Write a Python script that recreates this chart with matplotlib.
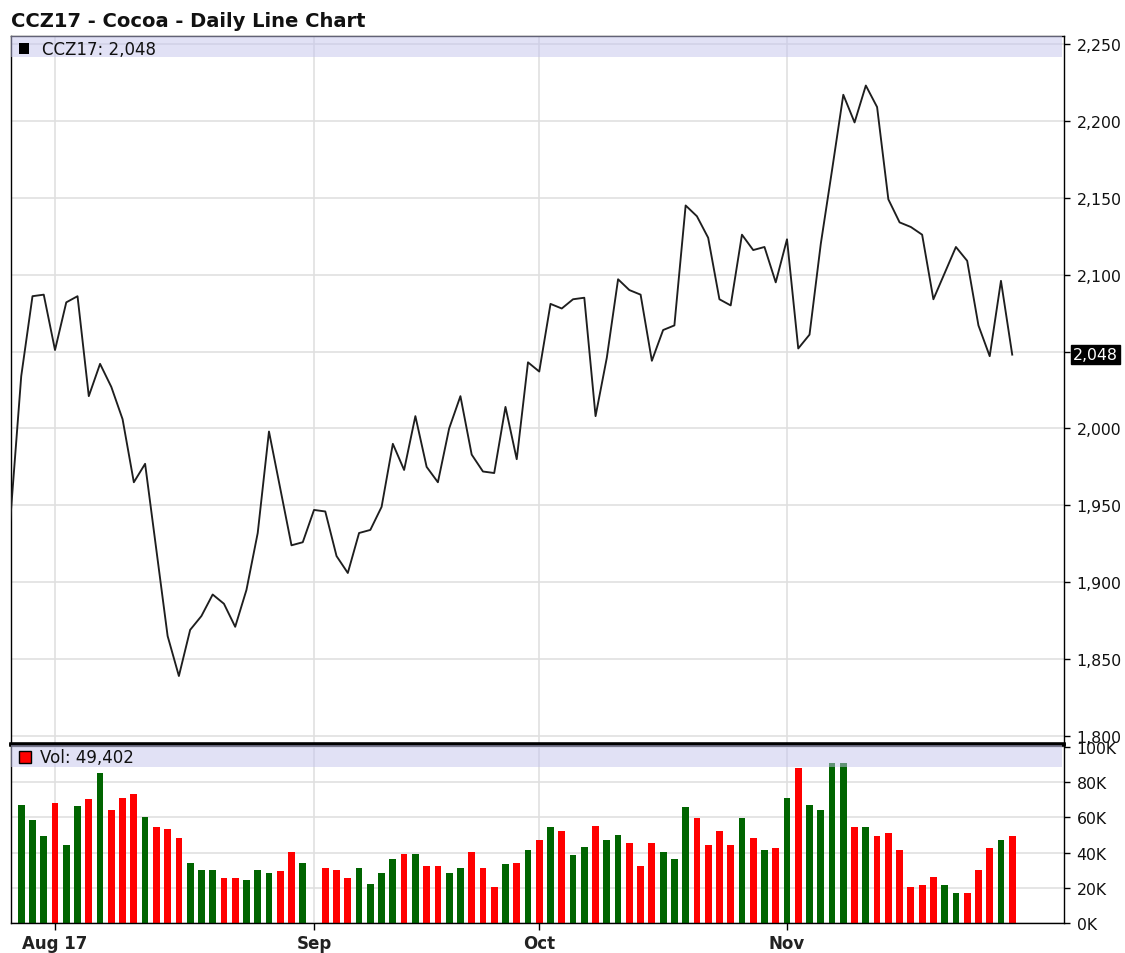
import numpy as np
import pandas as pd
import matplotlib
matplotlib.use('Agg')
import matplotlib.pyplot as plt
from matplotlib.ticker import FuncFormatter
from matplotlib.patches import Rectangle

# trading days shown on the chart (Sep 4 and Nov 23 are exchange holidays)
dates = pd.bdate_range('2017-07-26', '2017-11-30', freq='C',
                       holidays=['2017-09-04', '2017-11-23'])

# daily closes
close = [1938,
         2034, 2086, 2087,
         # Aug
         2051, 2082, 2086, 2021, 2042, 2027, 2006, 1965, 1977, 1921, 1865, 1839,
         1869, 1878, 1892, 1886, 1871, 1895, 1932, 1998, 1961, 1924, 1926,
         # Sep
         1947, 1946, 1917, 1906, 1932, 1934, 1949, 1990, 1973, 2008, 1975, 1965,
         2000, 2021, 1983, 1972, 1971, 2014, 1980, 2043,
         # Oct
         2037, 2081, 2078, 2084, 2085, 2008, 2046, 2097, 2090, 2087, 2044, 2064,
         2067, 2145, 2138, 2124, 2084, 2080, 2126, 2116, 2118, 2095,
         # Nov
         2123, 2052, 2061, 2120, 2168, 2217, 2199, 2223, 2209, 2149, 2134, 2131,
         2126, 2084, 2101, 2118, 2109, 2067, 2047, 2096, 2048]

# daily volume in thousands (first day is off the chart, Sep 1 has no bar)
volume_k = [np.nan,
            67.3, 58.3, 49.2,
            68.4, 44.4, 66.3, 70.3, 85.3, 64.3, 71.2, 73.5, 60.3, 54.3, 53.4, 48.3,
            34.2, 30.3, 30.3, 25.4, 25.4, 24.3, 30.3, 28.4, 29.4, 40.2, 34.2,
            0, 31.2, 30.3, 25.4, 31.2, 22.2, 28.2, 36.3, 39.3, 39.3, 32.4, 32.4,
            28.2, 31.2, 40.2, 31.2, 20.3, 33.3, 34.2, 41.4,
            47.4, 54.3, 52.3, 38.4, 43.2, 55.3, 47.4, 50.2, 45.3, 32.4, 45.3, 40.2,
            36.3, 66.1, 59.4, 44.4, 52.3, 44.4, 59.4, 48.3, 41.4, 42.5,
            71.2, 87.9, 67.3, 64.3, 91.0, 91.0, 54.3, 54.3, 49.2, 51.3, 41.4, 20.3,
            21.3, 26.3, 21.3, 17.3, 17.3, 30.3, 42.5, 47.4, 49.402]

month_labels = ['Aug 17', 'Sep', 'Oct', 'Nov']
price_ticks = [1800, 1850, 1900, 1950, 2000, 2050, 2100, 2150, 2200, 2250]
vol_ticks = [0, 20000, 40000, 60000, 80000, 100000]

close = np.array(close, dtype=float)
volume = np.array(volume_k) * 1000
x = np.arange(len(dates))

# first trading day of each month -> tick positions
month_start = [i for i in range(1, len(dates)) if dates[i].month != dates[i - 1].month]

up = np.r_[True, close[1:] >= close[:-1]]
bar_colors = np.where(up, '#006400', '#ff0000')

GRID = '#e0e0e0'
BAND = (0.77, 0.77, 0.93)

fig = plt.figure(figsize=(11.25, 9.54), dpi=100)
ax = fig.add_axes([0.0098, 0.2191, 0.9360, 0.7421])
axv = fig.add_axes([0.0098, 0.0315, 0.9360, 0.1866], sharex=ax)

# ---- price panel
ax.plot(x, close, color='#1e1e1e', lw=1.35, zorder=3)
ax.set_xlim(0.094, 93.6)
ax.set_ylim(1794.8, 2255.2)
ax.set_yticks(price_ticks)
last = close[-1]
ax.yaxis.set_major_formatter(FuncFormatter(
    lambda v, p: '' if abs(v - last) < 20 else f'{v:,.0f}'))
ax.yaxis.tick_right()
ax.tick_params(axis='y', direction='out', length=4, width=1, color='black',
               labelsize=11.3, pad=5, labelcolor='#111111')
ax.tick_params(axis='x', length=0, labelbottom=False)
ax.set_xticks(month_start)
ax.grid(True, color=GRID, lw=1.2, zorder=0)
ax.set_axisbelow(True)
for s in ['left', 'top', 'right']:
    ax.spines[s].set_linewidth(1.0)
ax.spines['bottom'].set_linewidth(2.6)

ax.add_patch(Rectangle((0, 0.9705), 0.998, 0.0295, transform=ax.transAxes,
                       facecolor=BAND, alpha=0.5, lw=0, zorder=4))
ax.add_patch(Rectangle((0.0078, 0.9742), 0.0092, 0.0158, transform=ax.transAxes,
                       facecolor='black', lw=0, zorder=5))
ax.text(0.0295, 0.9822, f'CCZ17: {last:,.0f}', transform=ax.transAxes,
        fontsize=12, va='center', ha='left', color='#111111', zorder=5)

ax.annotate(f'{last:,.0f}', xy=(1, last), xycoords=('axes fraction', 'data'),
            xytext=(6.3, 0), textcoords='offset points', va='center', ha='left',
            fontsize=11.3, color='white',
            bbox=dict(boxstyle='square,pad=0.12', fc='black', ec='black'),
            annotation_clip=False)

# ---- volume panel
axv.bar(x, volume, width=0.6, color=bar_colors, zorder=2)
axv.set_ylim(0, 101200)
axv.set_yticks(vol_ticks)
axv.yaxis.set_major_formatter(FuncFormatter(lambda v, p: f'{v / 1000:.0f}K'))
axv.yaxis.tick_right()
axv.tick_params(axis='y', direction='out', length=4, width=1, color='black',
                labelsize=11.3, pad=5, labelcolor='#111111')
axv.set_xticks(month_start)
axv.set_xticklabels(month_labels, fontweight='bold', fontsize=12)
axv.tick_params(axis='x', direction='out', length=5, width=1, pad=3,
                labelcolor='#222222')
axv.grid(True, color=GRID, lw=1.2, zorder=0)
axv.set_axisbelow(True)
for s in ['left', 'bottom', 'right']:
    axv.spines[s].set_linewidth(1.0)
axv.spines['top'].set_linewidth(2.6)

axv.add_patch(Rectangle((0, 0.876), 0.998, 0.124, transform=axv.transAxes,
                        facecolor=BAND, alpha=0.5, lw=0, zorder=4))
axv.add_patch(Rectangle((0.0078, 0.896), 0.011, 0.072, transform=axv.transAxes,
                        facecolor='#ff0000', edgecolor='black', lw=1, zorder=5))
axv.text(0.0275, 0.932, f'Vol: {volume[-1]:,.0f}', transform=axv.transAxes,
         fontsize=12, va='center', ha='left', color='#111111', zorder=5)

fig.text(0.0098, 0.987, 'CCZ17 - Cocoa - Daily Line Chart', fontsize=14,
         fontweight='bold', va='top', ha='left', color='#111111')

fig.savefig('out.png', dpi=100)
